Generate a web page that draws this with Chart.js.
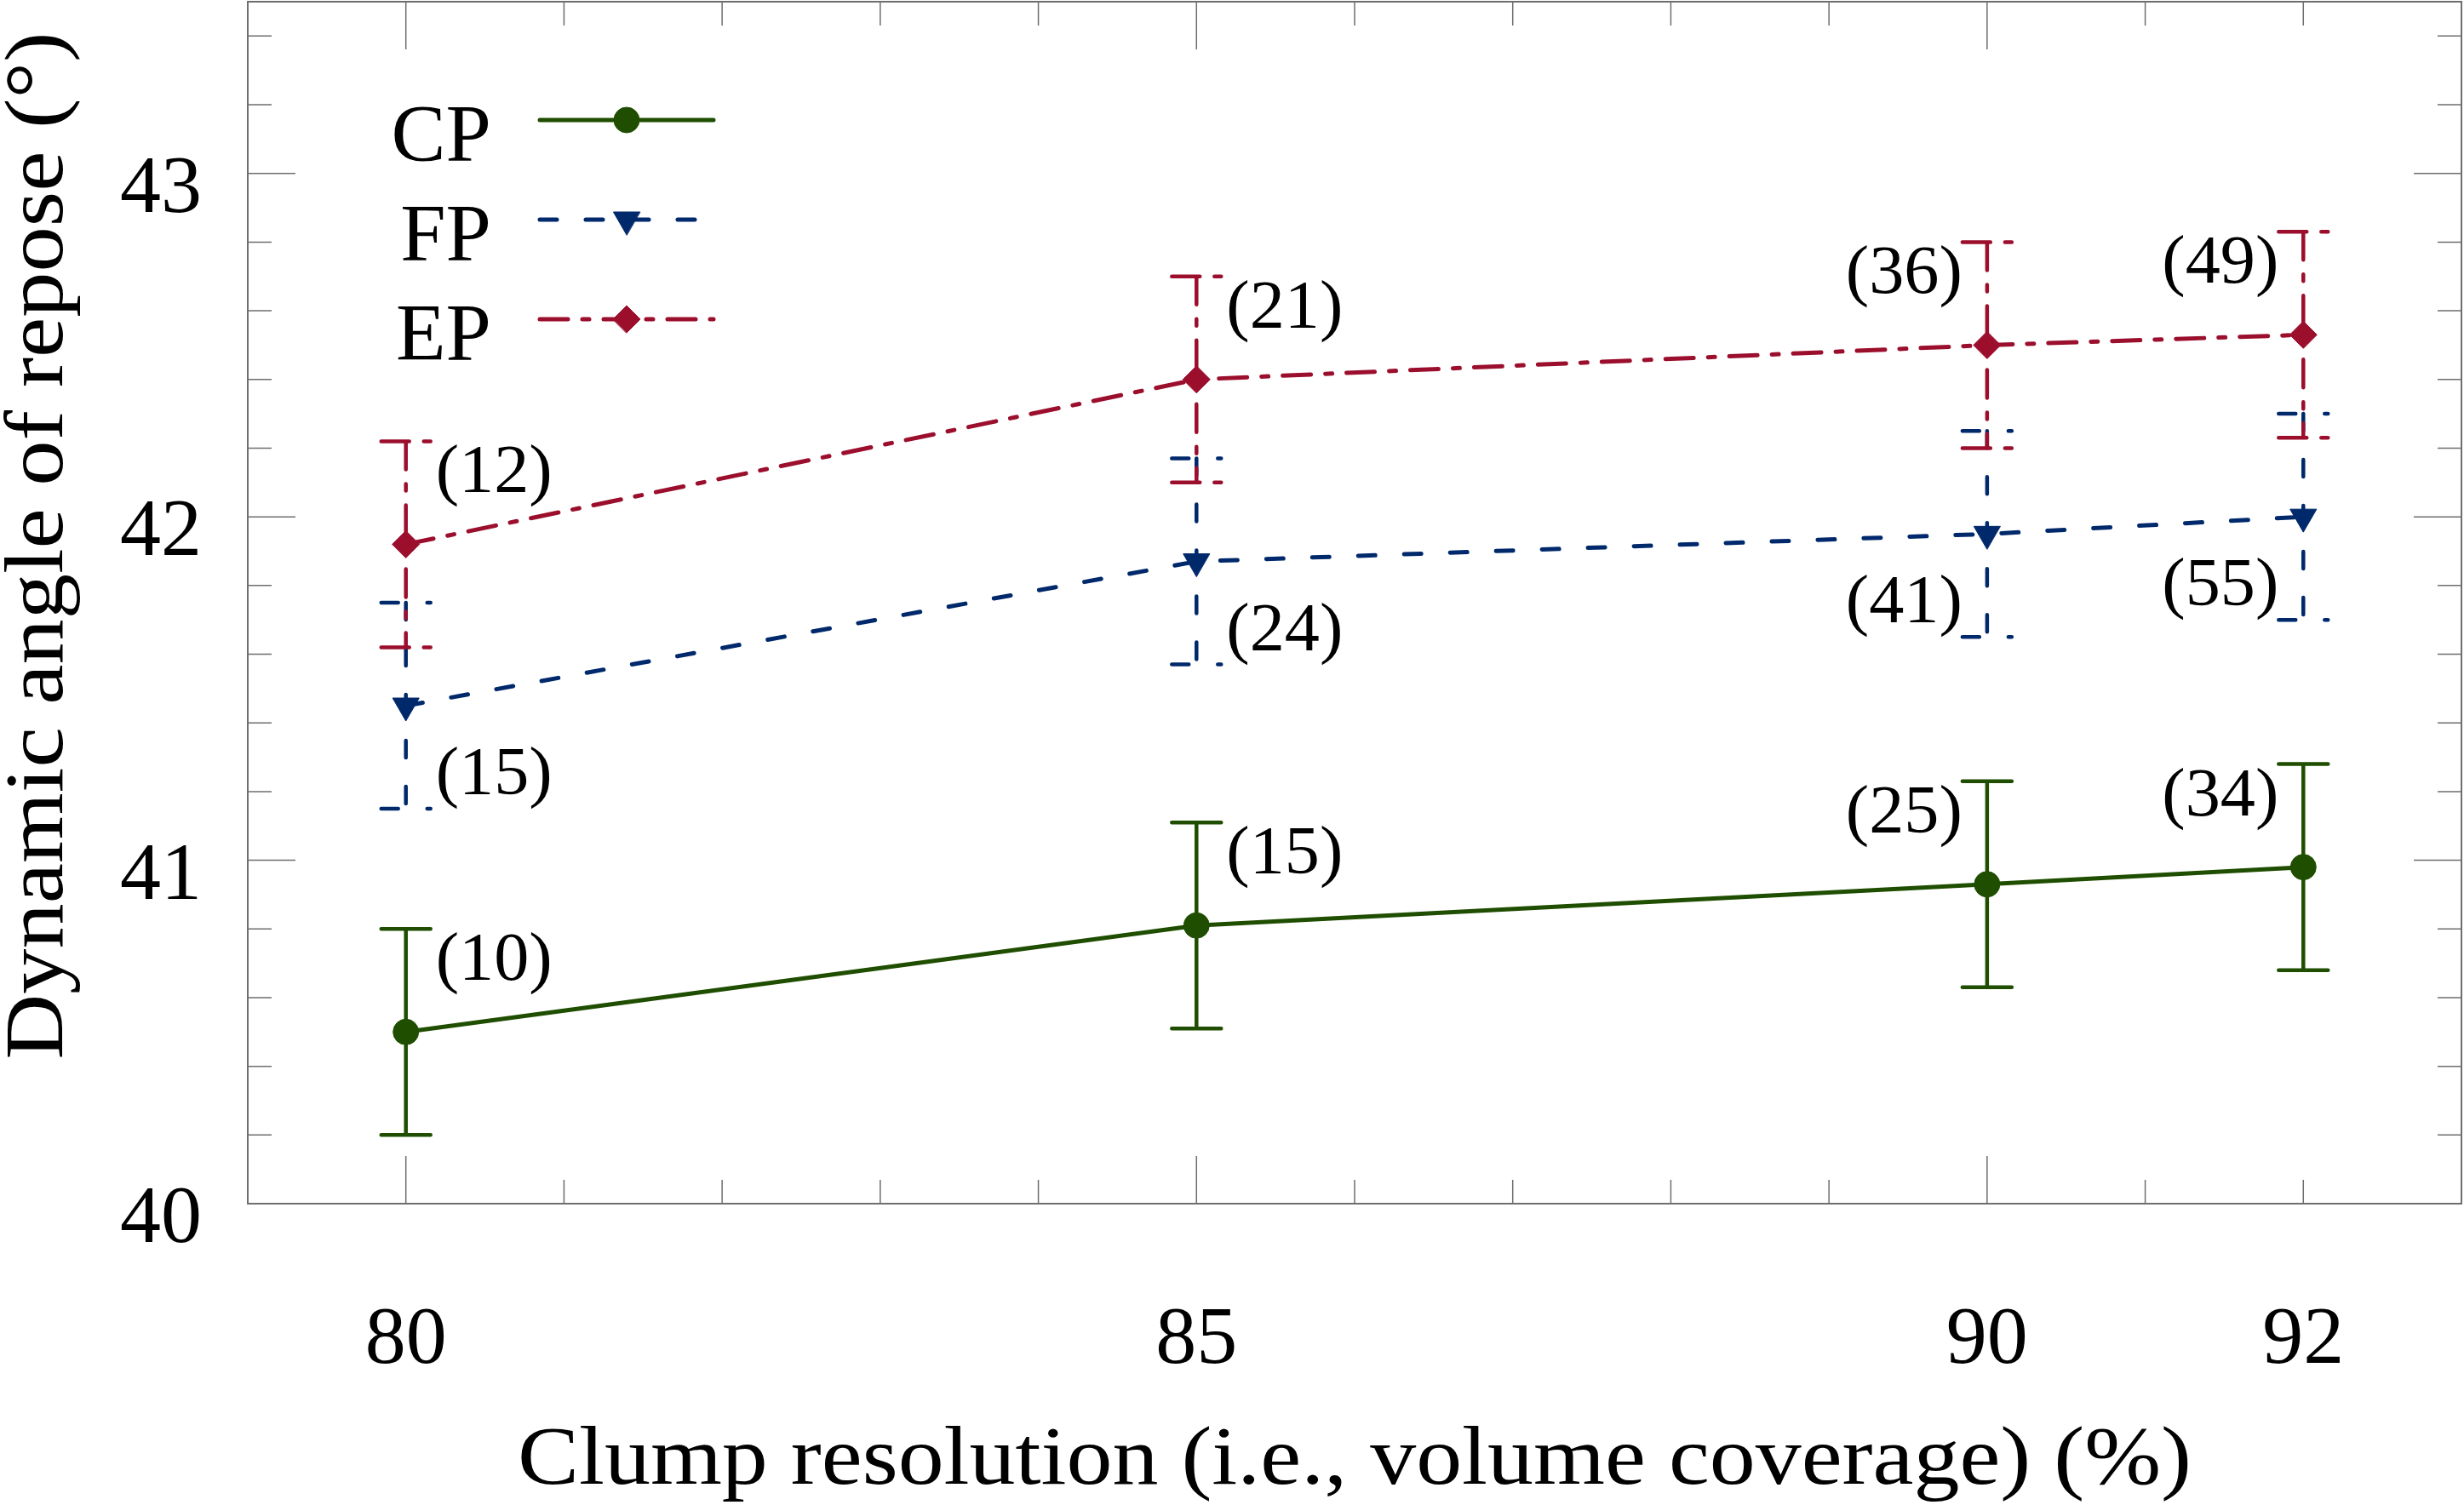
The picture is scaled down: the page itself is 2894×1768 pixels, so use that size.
<!DOCTYPE html>
<html>
<head>
<meta charset="utf-8">
<script src="https://cdn.jsdelivr.net/npm/chart.js@4.4.1/dist/chart.umd.min.js"></script>
<style>
  html, body { margin: 0; padding: 0; background: #fff; }
  #chart { display: block; }
</style>
</head>
<body>
<canvas id="chart" width="2894" height="1768"></canvas>
<script>
const coverage = [80, 85, 90, 92]
const xTicks = [80, 85, 90, 92]
const yTicks = [40, 41, 42, 43]

const cpAngle = [40.50, 40.81, 40.93, 40.98]
const cpError = [0.30, 0.30, 0.30, 0.30]
const cpCount = ['(10)', '(15)', '(25)', '(34)']

const fpAngle = [41.45, 41.87, 41.95, 42.00]
const fpError = [0.30, 0.30, 0.30, 0.30]
const fpCount = ['(15)', '(24)', '(41)', '(55)']

const epAngle = [41.92, 42.40, 42.50, 42.53]
const epError = [0.30, 0.30, 0.30, 0.30]
const epCount = ['(12)', '(21)', '(36)', '(49)']

// which side of the error bar each count label sits on
const countSide = ['right', 'right', 'left', 'left']

const green = '#1f4e00'
const blue = '#00296b'
const red = '#9b0f2d'
const serif = "'Liberation Serif', 'Times New Roman', serif"
const frameColor = '#6e6e6e'

const toPoints = (ys) => coverage.map((x, i) => ({ x, y: ys[i] }))

// draws text stretched to a given width (CM is wider than Times)
const fitText = (ctx, text, x, y, width) => {
  const w = ctx.measureText(text).width
  ctx.save()
  ctx.translate(x, y)
  ctx.scale(width / w, 1)
  ctx.fillText(text, 0, 0)
  ctx.restore()
}

// no extra room for overhanging tick labels, the frame fills the page
const noOverhang = (s) => {
  s.paddingTop = 0
  s.paddingBottom = 0
  s.paddingLeft = 0
  s.paddingRight = 0
}

const frameTicks = {
  id: 'frameTicks',
  beforeDatasetsDraw(chart) {
    const { ctx, chartArea: { left, right, top, bottom }, scales: { x, y } } = chart
    ctx.save()
    ctx.strokeStyle = frameColor
    ctx.lineWidth = 1.5
    ctx.beginPath()
    for (let k = 0; k <= 17; k++) {
      const py = y.getPixelForValue(40 + k * 0.2)
      const len = k % 5 === 0 ? 56 : 28
      ctx.moveTo(left, py); ctx.lineTo(left + len, py)
      ctx.moveTo(right, py); ctx.lineTo(right - len, py)
    }
    for (let v = 80; v <= 92; v++) {
      const px = x.getPixelForValue(v)
      const len = v % 5 === 0 ? 56 : 28
      ctx.moveTo(px, bottom); ctx.lineTo(px, bottom - len)
      ctx.moveTo(px, top); ctx.lineTo(px, top + len)
    }
    ctx.stroke()
    ctx.lineWidth = 2
    ctx.strokeRect(left, top, right - left, bottom - top)
    ctx.restore()
  }
}

const errorBars = {
  id: 'errorBars',
  beforeDatasetsDraw(chart) {
    const { ctx, scales: { x, y } } = chart
    chart.data.datasets.forEach(ds => {
      ctx.save()
      ctx.strokeStyle = ds.borderColor
      ctx.lineWidth = 4.5
      ctx.lineCap = 'round'
      ctx.setLineDash(ds.borderDash || [])
      ds.data.forEach((p, i) => {
        const px = x.getPixelForValue(p.x)
        const lo = y.getPixelForValue(p.y - ds.errors[i])
        const hi = y.getPixelForValue(p.y + ds.errors[i])
        ctx.beginPath()
        ctx.moveTo(px, hi); ctx.lineTo(px, lo)
        ctx.moveTo(px - 29, hi); ctx.lineTo(px + 29, hi)
        ctx.moveTo(px - 29, lo); ctx.lineTo(px + 29, lo)
        ctx.stroke()
      })
      ctx.restore()
    })
  }
}

const countLabels = {
  id: 'countLabels',
  afterDatasetsDraw(chart) {
    const { ctx, scales: { x, y } } = chart
    ctx.save()
    ctx.font = `80px ${serif}`
    ctx.fillStyle = '#000'
    ctx.textBaseline = 'alphabetic'
    chart.data.datasets.forEach(ds => {
      ds.data.forEach((p, i) => {
        const px = x.getPixelForValue(p.x)
        const atTop = ds.countAt === 'top'
        const capY = y.getPixelForValue(atTop ? p.y + ds.errors[i] : p.y - ds.errors[i])
        const ty = atTop ? capY + 60 : capY - 17
        if (countSide[i] === 'right') {
          ctx.textAlign = 'left'
          fitText(ctx, ds.counts[i], px + 35, ty, 137)
        } else {
          ctx.textAlign = 'right'
          fitText(ctx, ds.counts[i], px - 29, ty, 137)
        }
      })
    })
    ctx.restore()
  }
}

const legendAndTitles = {
  id: 'legendAndTitles',
  afterDraw(chart) {
    const { ctx, chartArea: { left, right } } = chart

    // legend: name on the left, line sample with marker on the right
    chart.data.datasets.forEach((ds, i) => {
      const rowY = 141 + i * 117
      ctx.save()
      ctx.font = `96px ${serif}`
      ctx.fillStyle = '#000'
      ctx.textAlign = 'right'
      ctx.textBaseline = 'alphabetic'
      ctx.fillText(ds.label, 577, rowY + 48)

      ctx.strokeStyle = ds.borderColor
      ctx.lineWidth = 5
      ctx.lineCap = 'round'
      ctx.setLineDash(ds.borderDash || [])
      ctx.beginPath()
      ctx.moveTo(634, rowY)
      ctx.lineTo(838, rowY)
      ctx.stroke()
      ctx.setLineDash([])
      ctx.fillStyle = ds.pointBackgroundColor
      ctx.lineWidth = ds.pointBorderWidth
      Chart.helpers.drawPoint(ctx, {
        pointStyle: ds.pointStyle,
        radius: ds.pointRadius,
        rotation: ds.pointRotation || 0,
        borderWidth: ds.pointBorderWidth
      }, 736, rowY)
      ctx.restore()
    })

    ctx.save()
    ctx.font = `98px ${serif}`
    ctx.fillStyle = '#000'
    ctx.textAlign = 'center'
    ctx.textBaseline = 'alphabetic'
    fitText(ctx, 'Clump resolution (i.e., volume coverage) (%)', (left + right) / 2, 1743, 1966)

    ctx.translate(73, 641)
    ctx.rotate(-Math.PI / 2)
    fitText(ctx, 'Dynamic angle of repose (°)', 0, 0, 1207)
    ctx.restore()
  }
}

const ctx = document.getElementById('chart').getContext('2d')

new Chart(ctx, {
  type: 'line',
  data: {
    datasets: [
      {
        label: 'CP',
        data: toPoints(cpAngle),
        errors: cpError,
        counts: cpCount,
        countAt: 'top',
        borderColor: green,
        borderWidth: 5,
        borderCapStyle: 'round',
        pointStyle: 'circle',
        pointRadius: 15,
        pointBackgroundColor: green,
        pointBorderColor: green,
        pointBorderWidth: 1
      },
      {
        label: 'FP',
        data: toPoints(fpAngle),
        errors: fpError,
        counts: fpCount,
        countAt: 'bottom',
        borderColor: blue,
        borderWidth: 5,
        borderDash: [20, 34],
        borderCapStyle: 'round',
        pointStyle: 'triangle',
        pointRotation: 180,
        pointRadius: 18,
        pointBackgroundColor: blue,
        pointBorderColor: blue,
        pointBorderWidth: 1
      },
      {
        label: 'EP',
        data: toPoints(epAngle),
        errors: epError,
        counts: epCount,
        countAt: 'top',
        borderColor: red,
        borderWidth: 5,
        borderDash: [33, 17, 8, 17],
        borderCapStyle: 'round',
        pointStyle: 'rectRot',
        pointRadius: 16,
        pointBackgroundColor: red,
        pointBorderColor: red,
        pointBorderWidth: 1
      }
    ]
  },
  options: {
    responsive: false,
    animation: false,
    devicePixelRatio: 1,
    layout: {
      autoPadding: false,
      padding: { top: 2, right: 3, left: 0, bottom: 0 }
    },
    plugins: {
      legend: { display: false },
      tooltip: { enabled: false }
    },
    scales: {
      x: {
        type: 'linear',
        min: 79,
        max: 93,
        afterBuildTicks: s => { s.ticks = xTicks.map(v => ({ value: v })) },
        afterFit: s => { s.height = 354; noOverhang(s) },
        grid: { display: false, drawTicks: false },
        border: { display: false },
        ticks: {
          font: { family: serif, size: 96 },
          color: '#000',
          padding: 104,
          maxRotation: 0,
          autoSkip: false
        }
      },
      y: {
        type: 'linear',
        min: 40,
        max: 43.5,
        afterBuildTicks: s => { s.ticks = yTicks.map(v => ({ value: v })) },
        afterFit: s => { s.width = 291; noOverhang(s) },
        grid: { display: false, drawTicks: false },
        border: { display: false },
        ticks: {
          font: { family: serif, size: 96 },
          color: '#000',
          padding: 54,
          labelOffset: 20
        }
      }
    }
  },
  plugins: [frameTicks, errorBars, countLabels, legendAndTitles]
})
</script>
</body>
</html>
